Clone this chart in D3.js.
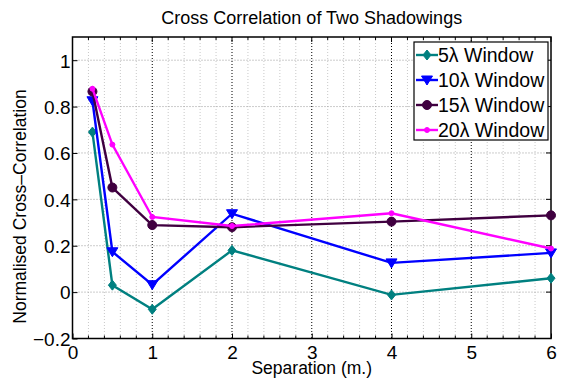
<!DOCTYPE html>
<html><head><meta charset="utf-8">
<script src="https://cdn.jsdelivr.net/npm/d3@7"></script>
<style>body{margin:0;background:#fff}svg{display:block;font-family:"Liberation Sans",Arial,sans-serif}</style>
</head><body><svg id="c" width="563" height="379"></svg>
<script>
const separation = [0.25, 0.5, 1, 2, 4, 6];
const w5  = [0.69, 0.03, -0.074, 0.18, -0.012, 0.06];
const w10 = [0.825, 0.174, 0.032, 0.338, 0.126, 0.169];
const w15 = [0.865, 0.451, 0.289, 0.28, 0.304, 0.331];
const w20 = [0.877, 0.636, 0.324, 0.285, 0.34, 0.188];
const seriesNames = ["5\u03bb Window", "10\u03bb Window", "15\u03bb Window", "20\u03bb Window"];
const xTicks = [0, 1, 2, 3, 4, 5, 6];
const yTicks = [-0.2, 0, 0.2, 0.4, 0.6, 0.8, 1];
const title = "Cross Correlation of Two Shadowings";
const xLabel = "Separation (m.)";
const yLabel = "Normalised Cross\u2013Correlation";

const colors = ["#008080", "#0000ff", "#400040", "#ff00ff"];
const markers = ["diamond", "tri", "circle", "dot"];
const series = [w5, w10, w15, w20];

const svg = d3.select("#c");
const L = 72.5, R = 551, T = 37, B = 338.5;
const x = d3.scaleLinear().domain([0, 6]).range([L, R]);
const y = d3.scaleLinear().domain([-0.2, 1.1]).range([B, T]);

// grid
const g = svg.append("g");
const minorX = d3.range(0, 6.001, 0.2).filter(v => Math.abs(v - Math.round(v)) > 1e-6);
g.selectAll(".mx").data(minorX).join("line")
  .attr("x1", d => x(d)).attr("x2", d => x(d)).attr("y1", T).attr("y2", B)
  .attr("stroke", "#c8c8c8").attr("stroke-width", 1).attr("stroke-dasharray", "1,2");
g.selectAll(".hy").data(yTicks.filter(v => v > -0.2)).join("line")
  .attr("x1", L).attr("x2", R).attr("y1", d => y(d)).attr("y2", d => y(d))
  .attr("stroke", "#999").attr("stroke-width", 1).attr("stroke-dasharray", "1,2");
g.selectAll(".Mx").data(xTicks.slice(1, -1)).join("line")
  .attr("x1", d => x(d)).attr("x2", d => x(d)).attr("y1", T).attr("y2", B)
  .attr("stroke", "#000").attr("stroke-width", 1).attr("stroke-dasharray", "1,2");

// axes
const fmtY = d => d === 0 ? "0" : (d < 0 ? "\u2212" : "") + Math.abs(d).toFixed(1).replace(/^1\.0$/, "1");
const xAxis = d3.axisBottom(x).tickValues(xTicks).tickFormat(d3.format("d")).tickSize(-5);
const yAxis = d3.axisLeft(y).tickValues(yTicks).tickFormat(fmtY).tickSize(-5);
const ax = svg.append("g").attr("transform", `translate(0,${B})`).call(xAxis);
const ay = svg.append("g").attr("transform", `translate(${L},0)`).call(yAxis);
[ax, ay].forEach(a => {
  a.select(".domain").remove();
  a.selectAll("text").attr("font-size", 19).attr("fill", "#000").attr("font-family", "Liberation Sans, Arial, sans-serif");
  a.selectAll("line").attr("stroke", "#000");
});
ax.selectAll("text").attr("dy", null).attr("y", 20);
ay.selectAll("text").attr("x", -2).attr("dy", "0.36em");
// minor ticks bottom & top
svg.append("g").selectAll("line").data(minorX).join("line")
  .attr("x1", d => x(d)).attr("x2", d => x(d)).attr("y1", B).attr("y2", B - 3).attr("stroke", "#000");
svg.append("g").selectAll("line").data(minorX).join("line")
  .attr("x1", d => x(d)).attr("x2", d => x(d)).attr("y1", T).attr("y2", T + 3).attr("stroke", "#000");
svg.append("g").selectAll("line").data(xTicks).join("line")
  .attr("x1", d => x(d)).attr("x2", d => x(d)).attr("y1", T).attr("y2", T + 5).attr("stroke", "#000");
svg.append("g").selectAll("line").data(yTicks).join("line")
  .attr("x1", R).attr("x2", R - 5).attr("y1", d => y(d)).attr("y2", d => y(d)).attr("stroke", "#000");
svg.append("rect").attr("x", L).attr("y", T).attr("width", R - L).attr("height", B - T)
  .attr("fill", "none").attr("stroke", "#000").attr("stroke-width", 1.5);

// lines
const line = d3.line().x((d, i) => x(separation[i])).y(d => y(d));
function drawMarker(sel, type, color) {
  if (type === "diamond") sel.append("path").attr("d", "M0,-5L4,0L0,5L-4,0Z").attr("fill", color).attr("stroke", color);
  else if (type === "tri") sel.append("path").attr("d", "M-5.5,-4L5.5,-4L0,5Z").attr("fill", color).attr("stroke", color);
  else if (type === "circle") sel.append("circle").attr("r", 4.5).attr("fill", color).attr("stroke", color);
  else sel.append("circle").attr("r", 2.5).attr("fill", color).attr("stroke", color);
}
series.forEach((s, k) => {
  const gs = svg.append("g");
  gs.append("path").datum(s).attr("d", line).attr("fill", "none").attr("stroke", colors[k]).attr("stroke-width", 2.4);
  s.forEach((v, i) => {
    const m = gs.append("g").attr("transform", `translate(${x(separation[i])},${y(v)})`);
    drawMarker(m, markers[k], colors[k]);
  });
});

// legend
const lg = svg.append("g");
lg.append("rect").attr("x", 414).attr("y", 42).attr("width", 134).attr("height", 98)
  .attr("fill", "#fff").attr("stroke", "#000").attr("stroke-width", 1.2);
seriesNames.forEach((n, k) => {
  const yy = 55 + k * 25;
  lg.append("line").attr("x1", 416).attr("x2", 438).attr("y1", yy).attr("y2", yy).attr("stroke", colors[k]).attr("stroke-width", 2.4);
  drawMarker(lg.append("g").attr("transform", `translate(427,${yy})`), markers[k], colors[k]);
  lg.append("text").attr("x", 438).attr("y", yy).attr("dy", "0.36em").attr("font-size", 19.5).text(n);
});

// titles
svg.append("text").attr("x", (L + R) / 2).attr("y", 23.5).attr("text-anchor", "middle").attr("font-size", 18).text(title);
svg.append("text").attr("x", (L + R) / 2).attr("y", 374).attr("text-anchor", "middle").attr("font-size", 17.5).text(xLabel);
svg.append("text").attr("transform", `translate(26,206.5) rotate(-90)`).attr("text-anchor", "middle").attr("font-size", 17.5).text(yLabel);
</script></body></html>
